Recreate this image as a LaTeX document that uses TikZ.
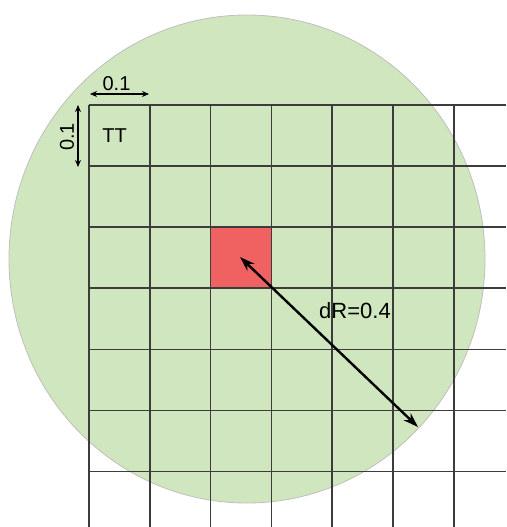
\documentclass[tikz,border=0pt]{standalone}
\usepackage{fontspec}
\setmainfont{Liberation Sans}
\usetikzlibrary{arrows.meta}
\definecolor{zone}{HTML}{D0E6BE}
\definecolor{hot}{HTML}{F06262}
\definecolor{gridc}{HTML}{3C3C3C}
\tikzset{
  gridline/.style={draw=gridc, line width=1.7pt},
  dimarrow/.style={draw=black, line width=1.6pt, {Stealth[length=7pt,width=6pt]}-{Stealth[length=7pt,width=6pt]}},
  radarrow/.style={draw=black, line width=2.4pt, {Stealth[length=15pt,width=10pt]}-{Stealth[length=15pt,width=10pt]}},
  lbl/.style={inner sep=0pt, font=\fontsize{20}{24}\selectfont}
}
\begin{document}
\begin{tikzpicture}[x=1pt,y=-1pt]
\useasboundingbox (0,0) rectangle (506,527);
% zone circle
\coordinate (c) at (247,259);
\fill[zone, draw=gray!50, line width=0.8pt] (c) ellipse [x radius=238, y radius=244];
% hot cell
\node[fill=hot, draw=none, minimum width=60.8pt, minimum height=61.1pt, inner sep=0pt, anchor=north west] (cell) at (210.6,227.2) {};
% grid
\foreach \k in {0,...,6} {
  \draw[gridline] ({89+60.8*\k},105) -- ({89+60.8*\k},527);
  \draw[gridline] (89,{105+61.1*\k}) -- (506,{105+61.1*\k});
}
% dimension arrows
\coordinate (ha) at (90,94);
\coordinate (hb) at (149,94);
\draw[dimarrow] (ha) -- (hb);
\node[lbl] (hl) at (116.5,84) {0.1};
\coordinate (va) at (78,105);
\coordinate (vb) at (78,167);
\draw[dimarrow] (va) -- (vb);
\node[lbl, rotate=90] (vl) at (67,137) {0.1};
% TT label
\node[lbl] (tt) at (114.5,136) {TT};
% radius arrow
\coordinate (r0) at (240,257);
\coordinate (r1) at (418,427);
\draw[radarrow] (r0) -- (r1);
\node[lbl, font=\fontsize{22}{26}\selectfont] (dr) at (355,310.5) {dR=0.4};
\end{tikzpicture}
\end{document}
